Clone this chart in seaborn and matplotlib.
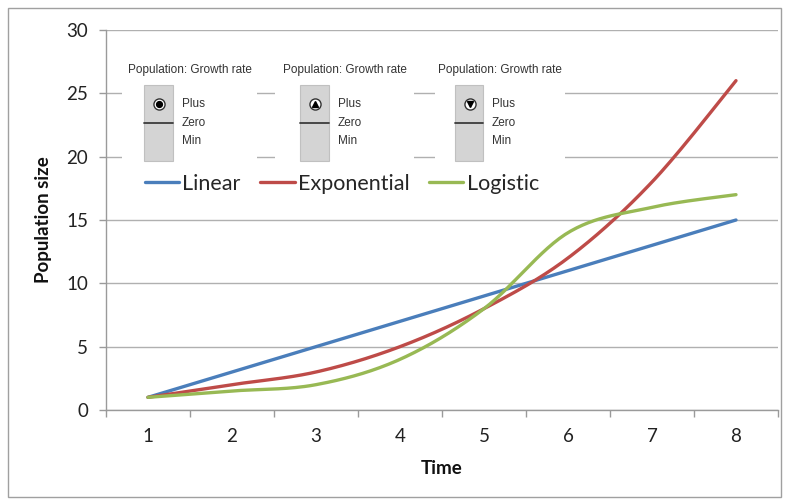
import numpy as np
import pandas as pd
import matplotlib
matplotlib.use('Agg')
import matplotlib.pyplot as plt
import seaborn as sns
from matplotlib.patches import Rectangle
from matplotlib.lines import Line2D
from matplotlib.ticker import MultipleLocator, FixedLocator

sns.set_theme(style='white')
plt.rcParams['font.family'] = ['Lato', 'DejaVu Sans']

# data
time = [1, 2, 3, 4, 5, 6, 7, 8]
linear = [1, 3, 5, 7, 9, 11, 13, 15]
exponential = [1, 2, 3, 5, 8, 12, 18, 26]
logistic = [1, 1.5, 2, 4, 8, 14, 16, 17]
series_names = ['Linear', 'Exponential', 'Logistic']
colors = ['#4A7EBB', '#BE4B48', '#98B954']
widget_title = 'Population: Growth rate'
widget_labels = ['Plus', 'Zero', 'Min']

W, H = 789, 504


def px(x, y):
    return (x / W, 1 - y / H)


def smooth(xs, ys, n=30):
    # Excel-style smoothed line (Catmull-Rom bezier)
    xs = np.asarray(xs, float)
    ys = np.asarray(ys, float)
    P = np.column_stack([xs, ys])
    P = np.vstack([P[0], P, P[-1]])
    out = []
    for i in range(1, len(P) - 2):
        p0, p1, p2, p3 = P[i - 1], P[i], P[i + 1], P[i + 2]
        c1 = p1 + (p2 - p0) / 6
        c2 = p2 - (p3 - p1) / 6
        t = np.linspace(0, 1, n)[:, None]
        seg = ((1 - t) ** 3) * p1 + 3 * ((1 - t) ** 2) * t * c1 + 3 * (1 - t) * t ** 2 * c2 + t ** 3 * p2
        out.append(seg if i == 1 else seg[1:])
    return np.vstack(out)


frames = []
for name, vals in zip(series_names, [linear, exponential, logistic]):
    s = smooth(time, vals)
    frames.append(pd.DataFrame({'Time': s[:, 0], 'Population size': s[:, 1], 'Series': name}))
df = pd.concat(frames, ignore_index=True)

fig = plt.figure(figsize=(W / 100, H / 100), dpi=100)
ax = fig.add_axes([106 / W, 1 - 410 / H, (778 - 106) / W, (410 - 30) / H])

sns.lineplot(data=df, x='Time', y='Population size', hue='Series', hue_order=series_names,
             palette=colors, sort=False, estimator=None, units='Series', linewidth=2.4,
             ax=ax, legend=False)

ax.set_xlim(0.5, 8.5)
ax.set_ylim(0, 30)
ax.yaxis.set_major_locator(MultipleLocator(5))
ax.xaxis.set_major_locator(FixedLocator(time))
ax.xaxis.set_minor_locator(FixedLocator(np.arange(0.5, 9, 1)))
ax.tick_params(axis='x', which='major', length=0, labelsize=13.5, pad=13, colors='#222222')
ax.tick_params(axis='x', which='minor', length=5, width=1, color='#9a9a9a', direction='out', bottom=True)
ax.tick_params(axis='y', length=5, width=1, color='#9a9a9a', direction='out', left=True,
               labelsize=13.5, pad=8, labelcolor='#222222')
ax.grid(axis='y', color='#b0b0b0', linewidth=1)
ax.set_axisbelow(True)
for side in ['top', 'right']:
    ax.spines[side].set_visible(False)
for side in ['left', 'bottom']:
    ax.spines[side].set_color('#9a9a9a')
    ax.spines[side].set_linewidth(1)
ax.set_xlabel('Time', fontsize=13.5, fontweight='bold', labelpad=11, color='#111111')
ax.set_ylabel('Population size', fontsize=13.5, fontweight='bold', labelpad=10, color='#111111')

handles = [Line2D([0], [0], color=c, lw=2.4) for c in colors]
ax.legend(handles, series_names, loc='center left', bbox_to_anchor=px(134, 184),
          bbox_transform=fig.transFigure, ncol=3, frameon=False, fontsize=15.5,
          handlelength=1.6, handletextpad=0.15, columnspacing=0.9, borderpad=0)

# growth-rate form controls overlaid on the chart
widgets = [
    (122, 257, 144, 173, 190, 'dot'),
    (275, 414, 300, 329, 345, 'up'),
    (435, 565, 455, 483, 500, 'down'),
]
for x0, x1, bx0, bx1, tx, icon in widgets:
    fig.add_artist(Rectangle(px(x0, 165), (x1 - x0) / W, 105 / H, transform=fig.transFigure,
                             facecolor='white', edgecolor='none', zorder=2))
    fig.add_artist(Rectangle(px(bx0, 161), (bx1 - bx0) / W, 76 / H, transform=fig.transFigure,
                             facecolor='#d4d4d4', edgecolor='#c0c0c0', linewidth=0.8, zorder=3))
    fig.add_artist(Line2D([bx0 / W, bx1 / W], [1 - 123 / H] * 2, transform=fig.transFigure,
                          color='#3c3c3c', linewidth=1.3, zorder=4))
    cx, cy = px(bx0 + 15, 104)
    fig.add_artist(Line2D([cx], [cy], marker='o', markersize=8, markerfacecolor='white',
                          markeredgecolor='#333333', markeredgewidth=1, transform=fig.transFigure, zorder=5))
    inner = {'dot': 'o', 'up': '^', 'down': 'v'}[icon]
    fig.add_artist(Line2D([cx], [cy], marker=inner, markersize=4.2 if icon == 'dot' else 4.6,
                          color='black', linestyle='none', transform=fig.transFigure, zorder=6))
    fig.text(*px(tx, 70), widget_title, ha='center', va='center', fontsize=8.5,
             family=['Liberation Sans', 'DejaVu Sans'], color='#333333', zorder=5)
    for lab, ly in zip(widget_labels, [104, 123, 141]):
        fig.text(*px(bx1 + 9, ly), lab, ha='left', va='center', fontsize=8.5,
                 family=['Liberation Sans', 'DejaVu Sans'], color='#333333', zorder=5)

# outer chart frame
fig.add_artist(Rectangle(px(8, 497), 773 / W, 489 / H, transform=fig.transFigure,
                         facecolor='none', edgecolor='#a0a0a0', linewidth=1, zorder=10))

fig.savefig('out.png', dpi=100)
